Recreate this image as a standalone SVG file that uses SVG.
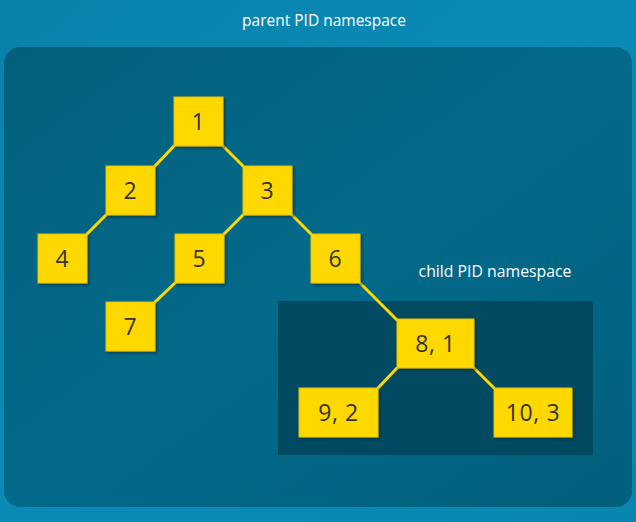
<svg xmlns="http://www.w3.org/2000/svg" width="636" height="522" viewBox="0 0 636 522">
<defs>
<linearGradient id="bg" x1="0" y1="0" x2="1" y2="1">
<stop offset="0" stop-color="#0a82ab"/>
<stop offset="0.5" stop-color="#098bb6"/>
<stop offset="1" stop-color="#0886b0"/>
</linearGradient>
<linearGradient id="panel" x1="0" y1="0" x2="1" y2="1">
<stop offset="0" stop-color="#03607c"/>
<stop offset="0.5" stop-color="#036a8a"/>
<stop offset="1" stop-color="#025f7d"/>
</linearGradient>
<filter id="sh" x="-20%" y="-20%" width="150%" height="150%">
<feDropShadow dx="2" dy="2" stdDeviation="1.2" flood-color="#002030" flood-opacity="0.5"/>
</filter>
</defs>
<style>
.node rect{fill:#ffd800;stroke:#e8c200;stroke-width:1;filter:url(#sh)}
.node text{font-family:"Open Sans","Noto Sans",sans-serif;font-size:23px;letter-spacing:0.6px;fill:#333333;text-anchor:middle}
.lbl{font-family:"Open Sans","Noto Sans",sans-serif;fill:#ffffff;text-anchor:middle}
#connectors line{stroke:#ffd800;stroke-width:3;stroke-linecap:round}
</style>
<rect width="636" height="522" fill="url(#bg)"/>
<text class="lbl" x="324" y="26" font-size="15.5">parent PID namespace</text>
<rect x="4" y="47" width="628" height="460" rx="16" fill="url(#panel)"/>
<rect x="278" y="301" width="315" height="154" fill="#024a62"/>
<text class="lbl" x="495" y="277" font-size="15.8">child PID namespace</text>
<g id="connectors">
<line x1="174" y1="146" x2="155" y2="166"/>
<line x1="223" y1="146" x2="243" y2="166"/>
<line x1="106" y1="215" x2="87" y2="234"/>
<line x1="243" y1="215" x2="224" y2="234"/>
<line x1="292" y1="215" x2="311" y2="234"/>
<line x1="175" y1="283" x2="155" y2="302"/>
<line x1="360" y1="283" x2="397" y2="320"/>
<line x1="397" y1="368" x2="378" y2="388"/>
<line x1="474" y1="368" x2="494" y2="388"/>
</g>
<g id="n1" class="node"><rect x="174" y="97" width="49" height="49"/><text x="198.5" y="130">1</text></g>
<g id="n2" class="node"><rect x="106" y="166" width="49" height="49"/><text x="130.5" y="199">2</text></g>
<g id="n3" class="node"><rect x="243" y="166" width="49" height="49"/><text x="267.5" y="199">3</text></g>
<g id="n4" class="node"><rect x="38" y="234" width="49" height="49"/><text x="62.5" y="267">4</text></g>
<g id="n5" class="node"><rect x="175" y="234" width="49" height="49"/><text x="199.5" y="267">5</text></g>
<g id="n6" class="node"><rect x="311" y="234" width="49" height="49"/><text x="335.5" y="267">6</text></g>
<g id="n7" class="node"><rect x="106" y="302" width="49" height="49"/><text x="130.5" y="335">7</text></g>
<g id="n8" class="node"><rect x="397" y="319" width="77" height="49"/><text x="435.5" y="352">8, 1</text></g>
<g id="n9" class="node"><rect x="299" y="388" width="79" height="49"/><text x="338.5" y="421">9, 2</text></g>
<g id="n10" class="node"><rect x="494" y="388" width="78" height="49"/><text x="533" y="421">10, 3</text></g>
</svg>
